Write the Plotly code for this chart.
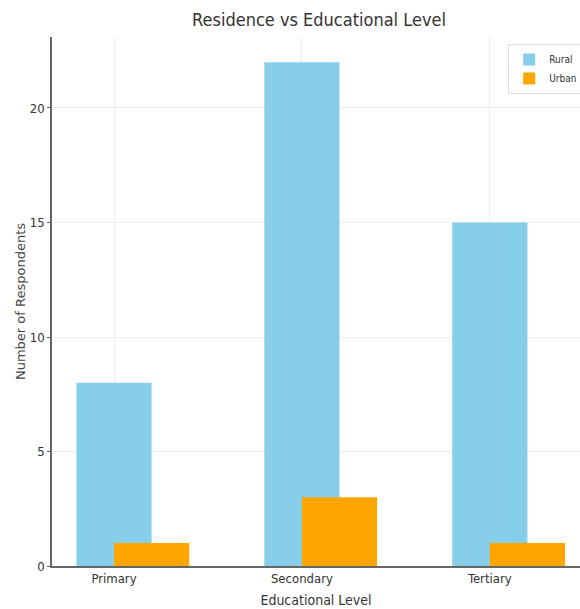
import plotly.graph_objects as go

categories = ["Primary", "Secondary", "Tertiary"]
rural = [8, 22, 15]
urban = [1, 3, 1]

NARROW = "DejaVu Sans Condensed, Liberation Sans Narrow, sans-serif"

fig = go.Figure()
fig.add_trace(go.Bar(x=categories, y=rural, name="Rural", marker_color="#87CEEB",
                     width=0.4, offset=-0.2, marker_line_width=0))
fig.add_trace(go.Bar(x=categories, y=urban, name="Urban", marker_color="#FFA500",
                     width=0.4, offset=0.0, marker_line_width=0))

fig.update_layout(
    width=580, height=609,
    margin=dict(l=52, r=0, t=37, b=43, autoexpand=False),
    barmode="overlay",
    plot_bgcolor="white", paper_bgcolor="white",
    title=dict(text="Residence vs Educational Level", x=0.55, xanchor="center",
               y=0.967, yanchor="middle",
               font=dict(family=NARROW, size=18, color="#333333")),
    legend=dict(x=0.864, y=0.987, xanchor="left", yanchor="top",
                bgcolor="rgba(255,255,255,0.8)", bordercolor="#dddddd", borderwidth=1,
                font=dict(family=NARROW, size=10, color="#333333"),
                itemwidth=30, tracegroupgap=0),
    showlegend=True,
)
fig.update_xaxes(
    type="category", range=[-0.33, 2.48], automargin=False,
    showgrid=True, gridcolor="#eeeeee", gridwidth=1,
    showline=True, linecolor="#666666", linewidth=1.5,
    ticks="", tickfont=dict(family=NARROW, size=13, color="#333333"),
    title=dict(text="Educational Level", font=dict(family=NARROW, size=14, color="#333333"),
               standoff=10),
)
fig.update_yaxes(
    range=[0, 23.1], tickvals=[0, 5, 10, 15, 20], automargin=False,
    showgrid=True, gridcolor="#eeeeee", gridwidth=1,
    showline=True, linecolor="#666666", linewidth=1.5,
    ticks="outside", ticklen=3, tickcolor="#666666",
    tickfont=dict(family=NARROW, size=13, color="#333333"),
    zeroline=False,
    title=dict(text="Number of Respondents", font=dict(family="DejaVu Sans", size=13, color="#444444"),
               standoff=1),
)

fig.write_html("out.html", config={"displayModeBar": False},
               post_script="document.body.style.margin='0';document.body.style.overflow='hidden';")
